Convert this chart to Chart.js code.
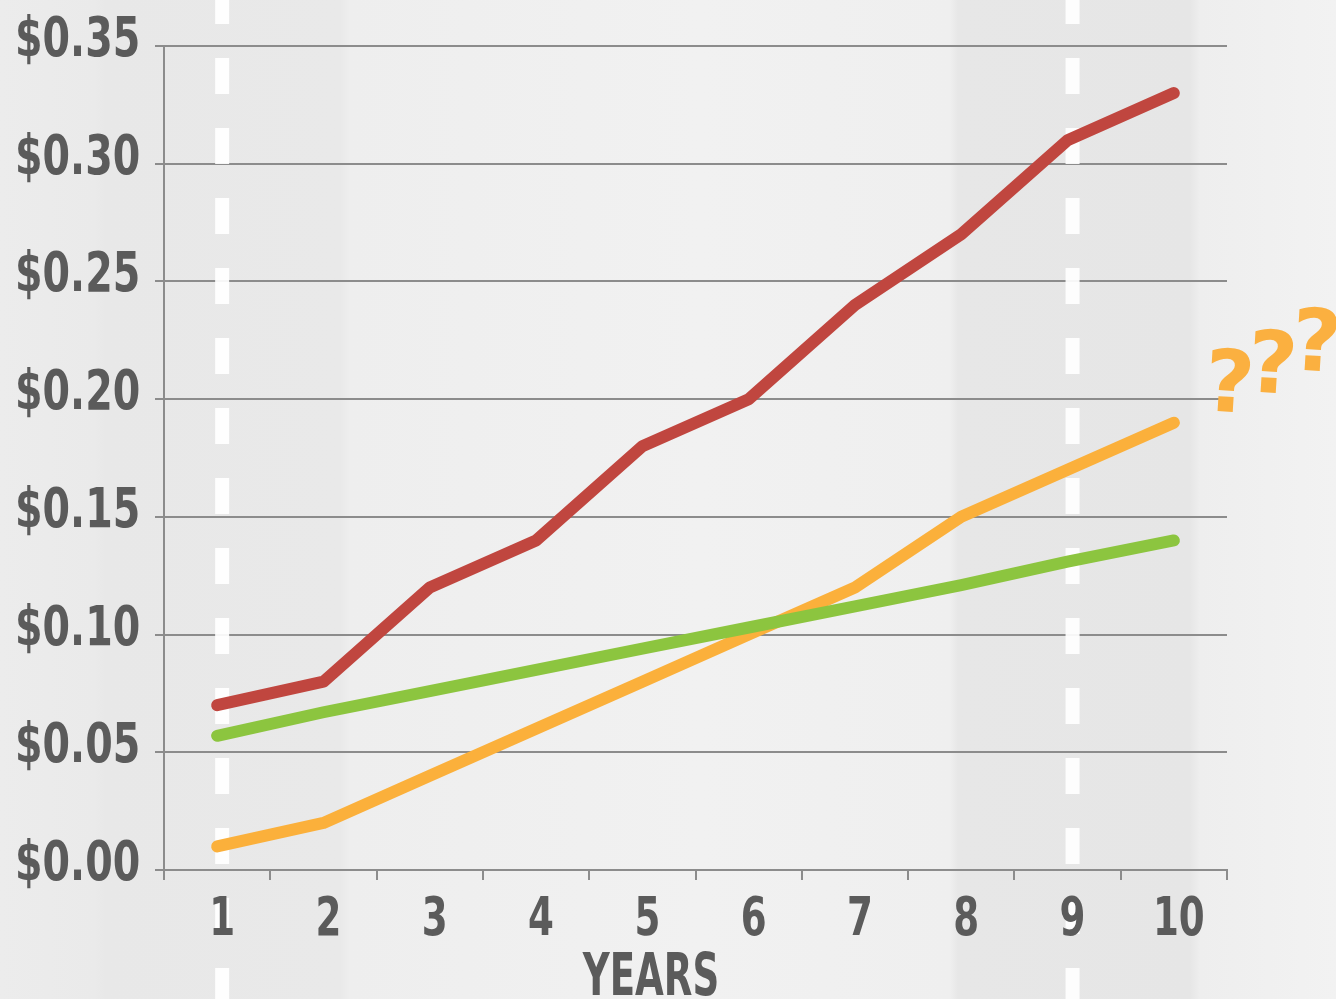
<!DOCTYPE html>
<html>
<head>
<meta charset="utf-8">
<script src="https://cdn.jsdelivr.net/npm/chart.js@4/dist/chart.umd.min.js"></script>
<style>
  html, body { margin: 0; padding: 0; }
  body {
    width: 1336px; height: 999px; overflow: hidden;
    background: linear-gradient(90deg, #ececec 0px, #eaeaea 95px, #e8e8e8 105px, #e9e9e9 340px, #eeeeee 350px, #f1f1f1 700px, #efefef 950px, #e7e7e7 958px, #e6e6e6 1190px, #eeeeee 1200px, #f2f2f2 1336px);
  }
  #wrap { position: absolute; left: 0; top: 0; width: 1336px; height: 999px; }
</style>
</head>
<body>
<div id="wrap"><canvas id="c" width="1336" height="999"></canvas></div>
<script>
// ---- data ----
const years = ['1', '2', '3', '4', '5', '6', '7', '8', '9', '10'];
const redSeries = [0.070, 0.080, 0.120, 0.140, 0.180, 0.200, 0.240, 0.270, 0.310, 0.330];
const orangeSeries = [0.010, 0.020, 0.040, 0.060, 0.080, 0.100, 0.120, 0.150, 0.170, 0.190];
const greenSeries = [0.057, 0.067, 0.076, 0.085, 0.094, 0.103, 0.112, 0.121, 0.131, 0.140];
const yTicks = [0, 0.05, 0.10, 0.15, 0.20, 0.25, 0.30, 0.35];
const yTickLabels = ['$0.00', '$0.05', '$0.10', '$0.15', '$0.20', '$0.25', '$0.30', '$0.35'];
const dashedYears = ['1', '9'];
const xTitle = 'YEARS';
const questionText = ['?', '?', '?'];

const TEXT = '#5b5b5b';
const COND = '"DejaVu Sans Condensed", "DejaVu Sans", sans-serif';

function squeezedText(ctx, text, x, y, sx, align) {
  ctx.save();
  ctx.translate(x, y);
  ctx.scale(sx, 1);
  ctx.textAlign = align;
  ctx.textBaseline = 'alphabetic';
  ctx.fillText(text, 0, 0);
  ctx.restore();
}

const dashedLines = {
  id: 'dashedLines',
  beforeDatasetsDraw(chart) {
    const ctx = chart.ctx, xs = chart.scales.x;
    ctx.save();
    ctx.strokeStyle = 'rgba(255,255,255,0.92)';
    ctx.lineWidth = 14;
    ctx.setLineDash([36, 34]);
    ctx.lineDashOffset = 12;
    dashedYears.forEach(y => {
      const px = xs.getPixelForValue(years.indexOf(y)) + 5;
      ctx.beginPath();
      ctx.moveTo(px, 0);
      ctx.lineTo(px, chart.height);
      ctx.stroke();
    });
    ctx.restore();
  }
};

const axisLabels = {
  id: 'axisLabels',
  afterDraw(chart) {
    const ctx = chart.ctx, xs = chart.scales.x, ys = chart.scales.y;
    ctx.save();
    ctx.fillStyle = TEXT;
    ctx.font = 'bold 55px ' + COND;
    yTicks.forEach((v, i) => {
      squeezedText(ctx, yTickLabels[i], 15, ys.getPixelForValue(v) + 10, 0.80, 'left');
    });
    ctx.font = 'bold 53px ' + COND;
    years.forEach((lab, i) => {
      squeezedText(ctx, lab, xs.getPixelForValue(i) + 5, 935, 0.78, 'center');
    });
    ctx.font = 'bold 59px ' + COND;
    squeezedText(ctx, xTitle, 651, 995, 0.70, 'center');
    ctx.restore();
  }
};

const questions = {
  id: 'questions',
  afterDatasetsDraw(chart) {
    const ctx = chart.ctx, ys = chart.scales.y, xs = chart.scales.x;
    const base = ys.getPixelForValue(orangeSeries[orangeSeries.length - 1]);
    const x0 = xs.right;
    ctx.save();
    ctx.fillStyle = '#fbb040';
    ctx.font = 'bold 86px "DejaVu Sans", sans-serif';
    ctx.textAlign = 'center';
    ctx.textBaseline = 'alphabetic';
    const offs = [[1, -11], [44, -30], [88, -52]];
    questionText.forEach((t, i) => {
      ctx.save();
      ctx.translate(x0 + offs[i][0], base + offs[i][1]);
      ctx.rotate(0.06);
      ctx.fillText(t, 0, 0);
      ctx.restore();
    });
    ctx.restore();
  }
};

const common = { fill: false, pointRadius: 0, borderWidth: 12, borderCapStyle: 'round', borderJoinStyle: 'round', tension: 0 };

new Chart(document.getElementById('c'), {
  type: 'line',
  data: {
    labels: years,
    datasets: [
      Object.assign({ label: 'green', data: greenSeries, borderColor: '#8cc53f' }, common),
      Object.assign({ label: 'orange', data: orangeSeries, borderColor: '#fbb03b' }, common),
      Object.assign({ label: 'red', data: redSeries, borderColor: '#c0463f' }, common)
    ]
  },
  options: {
    responsive: false,
    animation: false,
    layout: { padding: { left: 15, right: 109, top: 46, bottom: 0 } },
    plugins: { legend: { display: false }, tooltip: { enabled: false } },
    scales: {
      x: {
        offset: true,
        grid: { display: true, drawOnChartArea: false, offset: true, tickLength: 10, color: '#8c8c8c', lineWidth: 2 },
        border: { color: '#8c8c8c', width: 2 },
        ticks: { display: false },
        afterFit(s) { s.height = 129; }
      },
      y: {
        min: 0, max: 0.35,
        afterBuildTicks(s) { s.ticks = yTicks.map(v => ({ value: v })); },
        grid: { color: '#8c8c8c', lineWidth: 2, tickLength: 9 },
        border: { color: '#8c8c8c', width: 2 },
        ticks: { display: false },
        afterFit(s) { s.width = 149; }
      }
    }
  },
  plugins: [dashedLines, axisLabels, questions]
});
</script>
</body>
</html>
